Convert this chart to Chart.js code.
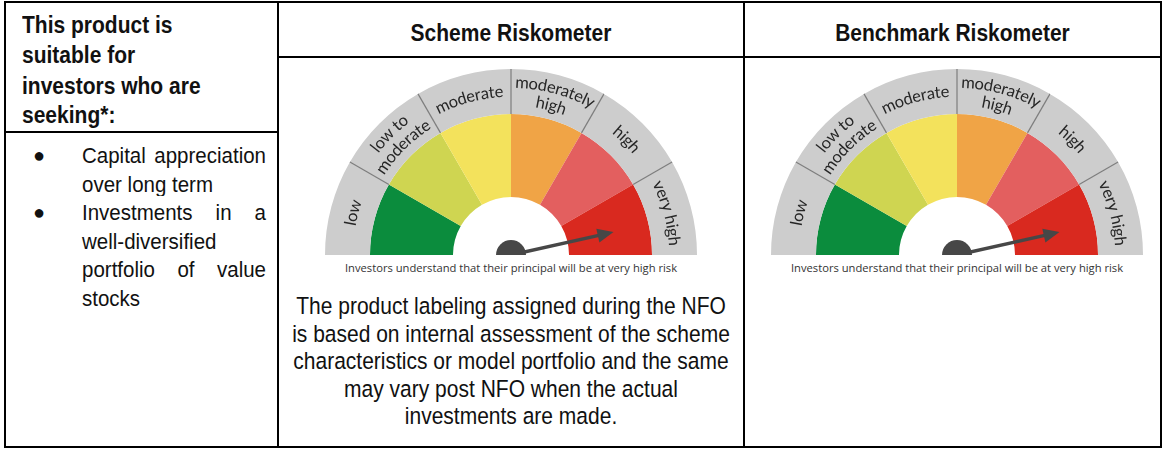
<!DOCTYPE html>
<html>
<head>
<meta charset="utf-8">
<script src="https://cdn.jsdelivr.net/npm/chart.js@4.4.1/dist/chart.umd.min.js"></script>
<style>
  html, body { margin: 0; padding: 0; background: #fff; }
  body { width: 1164px; height: 449px; position: relative; overflow: hidden;
         font-family: 'Liberation Sans', Arial, sans-serif; color: #111; }
  .ln { position: absolute; background: #000; }
  .tall { transform: scaleY(1.1); transform-origin: 0 0; }
  .hdr { position: absolute; font-weight: bold; font-size: 21px; text-align: center; line-height: 22px; }
  .lead { position: absolute; left: 22px; top: 10px; font-weight: bold; font-size: 21px; line-height: 27.3px; }
  .item { position: absolute; left: 82px; width: 184px; font-size: 20.5px; line-height: 25.9px; text-align: justify; }
  .dot { position: absolute; left: 33px; font-size: 20px; line-height: 28.5px; }
  .gauge { position: absolute; }
  .cap { position: absolute; width: 420px; text-align: center; font-family: 'Open Sans', sans-serif;
         font-size: 11.2px; color: #333; line-height: 14px; }
  .note { position: absolute; left: 279px; width: 464px; top: 292px; text-align: center;
          font-size: 21px; line-height: 25.1px; }
</style>
</head>
<body>
  <!-- table rules -->
  <div class="ln" style="left:4px; top:1px; width:1158px; height:2px"></div>
  <div class="ln" style="left:4px; top:446px; width:1158px; height:2px"></div>
  <div class="ln" style="left:4px; top:1px; width:2px; height:447px"></div>
  <div class="ln" style="left:1160px; top:1px; width:2px; height:447px"></div>
  <div class="ln" style="left:277px; top:1px; width:2px; height:447px"></div>
  <div class="ln" style="left:743px; top:1px; width:2px; height:447px"></div>
  <div class="ln" style="left:4px; top:131px; width:275px; height:2px"></div>
  <div class="ln" style="left:277px; top:56px; width:885px; height:2px"></div>

  <div class="lead tall">This product is<br>suitable for<br>investors who are<br>seeking*:</div>
  <div class="dot" style="top:141px">&#9679;</div>
  <div class="item tall" style="top:141px">Capital appreciation over long term</div>
  <div class="dot" style="top:198px">&#9679;</div>
  <div class="item tall" style="top:198px">Investments in a well-diversified portfolio of value stocks</div>

  <div class="hdr tall" style="left:279px; width:464px; top:21px">Scheme Riskometer</div>
  <div class="hdr tall" style="left:745px; width:415px; top:21px">Benchmark Riskometer</div>

  <div class="gauge" style="left:325px; top:69px"><canvas id="scheme" width="372" height="186"></canvas></div>
  <div class="gauge" style="left:771px; top:69px"><canvas id="benchmark" width="372" height="186"></canvas></div>

  <div class="cap" style="left:301px; top:261px">Investors understand that their principal will be at very high risk</div>
  <div class="cap" style="left:747px; top:261px">Investors understand that their principal will be at very high risk</div>

  <div class="note tall">The product labeling assigned during the NFO<br>is based on internal assessment of the scheme<br>characteristics or model portfolio and the same<br>may vary post NFO when the actual<br>investments are made.</div>

<script>
// risk bands, left to right
const riskLevels = ['low', 'low to moderate', 'moderate', 'moderately high', 'high', 'very high'];
const ringLabels = [['low'], ['low to', 'moderate'], ['moderate'], ['moderately', 'high'], ['high'], ['very high']];
const bandShare = [1, 1, 1, 1, 1, 1];
const bandColors = ['#0b8c3d', '#cfd551', '#f3e25c', '#f0a446', '#e35f5f', '#d9291f'];
// needle position on the 0..6 band scale
const schemeNeedle = 5.58;
const benchmarkNeedle = 5.58;

function drawArcText(ctx, cx, cy, r, mid, text) {
    const total = ctx.measureText(text).width;
    let a = mid - total / 2 / r;
    for (const ch of text) {
        const w = ctx.measureText(ch).width;
        const ca = a + (w / 2) / r;
        ctx.save();
        ctx.translate(cx + r * Math.cos(ca), cy + r * Math.sin(ca));
        ctx.rotate(ca + Math.PI / 2);
        ctx.fillText(ch, 0, 0);
        ctx.restore();
        a += w / r;
    }
}

const gaugeDecor = {
    id: 'gaugeDecor',
    afterDatasetsDraw(chart, args, opts) {
        const ctx = chart.ctx;
        const ring = chart.getDatasetMeta(0).data;
        const bands = chart.getDatasetMeta(1).data;
        ctx.save();

        // separators in the grey ring
        ctx.strokeStyle = '#7d7d7d';
        ctx.lineWidth = 1.2;
        ring.forEach((arc, i) => {
            if (i === 0) return;
            const p = arc.getProps(['x', 'y', 'startAngle', 'innerRadius', 'outerRadius'], true);
            ctx.beginPath();
            ctx.moveTo(p.x + p.innerRadius * Math.cos(p.startAngle), p.y + p.innerRadius * Math.sin(p.startAngle));
            ctx.lineTo(p.x + p.outerRadius * Math.cos(p.startAngle), p.y + p.outerRadius * Math.sin(p.startAngle));
            ctx.stroke();
        });

        // curved labels
        ctx.fillStyle = '#262626';
        ctx.font = '16.5px Lato, "Open Sans", sans-serif';
        ctx.textAlign = 'center';
        ctx.textBaseline = 'middle';
        ring.forEach((arc, i) => {
            const p = arc.getProps(['x', 'y', 'startAngle', 'endAngle', 'innerRadius', 'outerRadius'], true);
            const mid = (p.startAngle + p.endAngle) / 2;
            const lines = ringLabels[i];
            const midR = (p.innerRadius + p.outerRadius) / 2;
            if (lines.length === 1) {
                drawArcText(ctx, p.x, p.y, midR, mid, lines[0]);
            } else {
                drawArcText(ctx, p.x, p.y, midR + 9, mid, lines[0]);
                drawArcText(ctx, p.x, p.y, midR - 8.5, mid, lines[1]);
            }
        });

        // needle
        const first = bands[0].getProps(['x', 'y', 'startAngle'], true);
        const last = bands[bands.length - 1].getProps(['endAngle'], true);
        const ang = first.startAngle + (last.endAngle - first.startAngle) * opts.value / riskLevels.length;
        const cx = first.x, cy = first.y;
        const len = 105, head = 16, half = 7;
        const ux = Math.cos(ang), uy = Math.sin(ang);
        ctx.fillStyle = '#474747';
        ctx.strokeStyle = '#474747';
        ctx.lineWidth = 3.5;
        ctx.beginPath();
        ctx.moveTo(cx, cy);
        ctx.lineTo(cx + ux * (len - head + 1), cy + uy * (len - head + 1));
        ctx.stroke();
        ctx.beginPath();
        ctx.moveTo(cx + ux * len, cy + uy * len);
        ctx.lineTo(cx + ux * (len - head) - uy * half, cy + uy * (len - head) + ux * half);
        ctx.lineTo(cx + ux * (len - head) + uy * half, cy + uy * (len - head) - ux * half);
        ctx.closePath();
        ctx.fill();
        ctx.beginPath();
        ctx.arc(cx, cy, 15, Math.PI, 2 * Math.PI);
        ctx.closePath();
        ctx.fill();
        ctx.restore();
    }
};

function makeGauge(id, needle) {
    return new Chart(document.getElementById(id), {
        type: 'doughnut',
        data: {
            labels: riskLevels,
            datasets: [
                {
                    data: bandShare,
                    backgroundColor: '#cdcdcd',
                    borderWidth: 0,
                    weight: 45
                },
                {
                    data: bandShare,
                    backgroundColor: bandColors,
                    borderWidth: 0,
                    weight: 83
                }
            ]
        },
        options: {
            responsive: false,
            animation: false,
            events: [],
            rotation: -90,
            circumference: 180,
            cutout: '31.2%',
            layout: { padding: 0 },
            plugins: {
                legend: { display: false },
                tooltip: { enabled: false },
                gaugeDecor: { value: needle }
            }
        },
        plugins: [gaugeDecor]
    });
}

makeGauge('scheme', schemeNeedle);
makeGauge('benchmark', benchmarkNeedle);
</script>
</body>
</html>
